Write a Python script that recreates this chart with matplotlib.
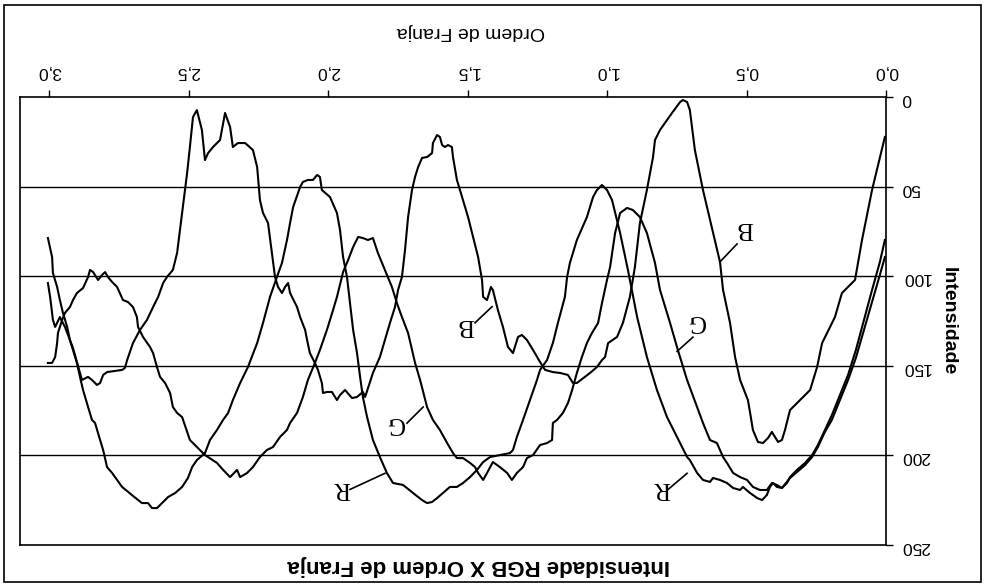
import matplotlib
matplotlib.use("Agg")
import matplotlib.pyplot as plt
from matplotlib.patches import Rectangle

plt.rcParams['font.family'] = ['Liberation Sans', 'DejaVu Sans']

# ordem de franja (x) e intensidade
b_x = [0.004, 0.050, 0.086, 0.111, 0.158, 0.183, 0.229, 0.247, 0.272, 0.297, 0.319, 0.344, 0.362, 0.373,
       0.387, 0.398, 0.409, 0.423, 0.441, 0.459, 0.477, 0.487, 0.495, 0.523, 0.541, 0.559, 0.584, 0.595,
       0.627, 0.656, 0.685, 0.703, 0.713, 0.728, 0.738, 0.767, 0.810, 0.828, 0.835, 0.857, 0.882, 0.900,
       0.918, 0.943, 0.964, 0.996, 1.007, 1.018, 1.036, 1.061, 1.108, 1.122, 1.140, 1.168, 1.194, 1.222,
       1.240, 1.265, 1.287, 1.305, 1.319, 1.337, 1.355, 1.373, 1.391, 1.409, 1.416, 1.430, 1.444, 1.448,
       1.462, 1.480, 1.498, 1.516, 1.527, 1.538, 1.552, 1.556, 1.570, 1.581, 1.591, 1.599, 1.609, 1.624,
       1.627, 1.645, 1.663, 1.677, 1.688, 1.699, 1.713, 1.724, 1.735, 1.749, 1.760, 1.778, 1.796, 1.814,
       1.839, 1.867, 1.875, 1.896, 1.914, 1.939, 1.957, 1.968, 1.986, 2.004, 2.018, 2.022, 2.036, 2.047,
       2.065, 2.075, 2.082, 2.100, 2.111, 2.136, 2.143, 2.154, 2.165, 2.179, 2.190, 2.201, 2.215, 2.233,
       2.244, 2.254, 2.269, 2.297, 2.323, 2.341, 2.351, 2.369, 2.387, 2.412, 2.430, 2.441, 2.452, 2.470,
       2.484, 2.495, 2.505, 2.523, 2.541, 2.556, 2.577, 2.591, 2.609, 2.627, 2.649, 2.674, 2.699, 2.720,
       2.728, 2.738, 2.792, 2.806, 2.817, 2.828, 2.846, 2.860, 2.882, 2.914, 2.925, 2.943, 2.961, 2.978,
       2.986, 2.996, 3.004]
b_val = [22.3, 51.9, 79.8, 102.1, 109.4, 122.8, 137.3, 150.7, 163.5, 167.4, 170.8, 174.7, 185.8, 191.4,
         192.5, 189.7, 186.9, 190.3, 193.1, 192.5, 185.8, 176.3, 169.1, 157.9, 145.1, 126.1, 107.7, 92.1,
         71.0, 51.9, 29.6, 7.3, 2.8, 1.7, 2.8, 8.9, 18.4, 24.0, 33.5, 51.9, 70.3, 94.9,
         111.6, 126.1, 133.9, 137.3, 145.1, 146.8, 150.7, 154.0, 159.6, 159.6, 155.1, 154.0, 153.5, 152.3,
         147.9, 141.2, 135.6, 132.8, 133.9, 142.9, 139.5, 128.3, 118.9, 107.7, 106.0, 113.3, 111.6, 102.1,
         89.3, 78.1, 67.0, 57.5, 51.9, 46.3, 33.5, 27.9, 26.8, 27.9, 26.8, 22.3, 21.2, 25.7,
         31.3, 33.5, 34.0, 39.1, 44.6, 51.9, 67.0, 85.4, 100.4, 107.7, 117.2, 126.1, 135.6, 145.1,
         154.0, 167.4, 164.6, 167.4, 168.0, 163.5, 166.3, 169.1, 164.6, 164.6, 165.2, 159.6, 152.3, 148.4,
         142.9, 135.6, 130.0, 122.8, 117.2, 109.4, 103.8, 106.0, 109.4, 106.0, 100.4, 87.1, 70.3, 64.7,
         57.5, 39.1, 29.6, 25.7, 25.7, 27.9, 16.7, 8.9, 24.0, 27.9, 31.3, 35.2, 18.4, 7.3,
         11.2, 27.9, 42.4, 64.7, 87.1, 96.5, 100.4, 103.8, 111.6, 117.2, 124.4, 130.0, 137.3, 146.8,
         151.2, 152.3, 153.5, 155.1, 159.6, 160.7, 157.9, 156.2, 157.9, 140.1, 135.6, 128.3, 122.8, 128.3,
         124.4, 111.6, 103.8]

g_x = [0.004, 0.022, 0.050, 0.079, 0.108, 0.136, 0.165, 0.194, 0.219, 0.244, 0.265, 0.290, 0.319, 0.344,
       0.355, 0.373, 0.391, 0.409, 0.427, 0.452, 0.477, 0.498, 0.523, 0.548, 0.570, 0.584, 0.606, 0.631,
       0.656, 0.677, 0.713, 0.746, 0.774, 0.810, 0.828, 0.857, 0.882, 0.907, 0.928, 0.953, 0.971, 0.989,
       1.000, 1.018, 1.032, 1.054, 1.072, 1.090, 1.108, 1.125, 1.140, 1.158, 1.179, 1.194, 1.197, 1.215,
       1.240, 1.265, 1.287, 1.301, 1.323, 1.341, 1.358, 1.384, 1.409, 1.430, 1.444, 1.462, 1.473, 1.491,
       1.516, 1.538, 1.552, 1.573, 1.599, 1.624, 1.645, 1.670, 1.688, 1.713, 1.735, 1.753, 1.771, 1.796,
       1.821, 1.839, 1.857, 1.875, 1.892, 1.910, 1.928, 1.946, 1.968, 1.982, 2.004, 2.029, 2.047, 2.072,
       2.090, 2.111, 2.136, 2.147, 2.172, 2.197, 2.219, 2.244, 2.269, 2.290, 2.315, 2.326, 2.351, 2.376,
       2.398, 2.441, 2.470, 2.495, 2.523, 2.541, 2.556, 2.566, 2.584, 2.602, 2.613, 2.627, 2.638, 2.663,
       2.681, 2.685, 2.699, 2.717, 2.735, 2.746, 2.756, 2.774, 2.789, 2.799, 2.810, 2.824, 2.842, 2.853,
       2.860, 2.878, 2.900, 2.914, 2.925, 2.943, 2.953, 2.968, 2.971, 2.978, 2.989, 3.004]
g_val = [79.8, 92.1, 107.7, 124.4, 141.2, 155.1, 166.3, 177.5, 185.8, 194.2, 199.8, 204.2, 208.1, 212.1,
         215.4, 218.2, 216.5, 215.4, 219.3, 219.3, 217.6, 213.7, 212.1, 209.8, 204.2, 200.9, 193.1, 191.4,
         181.9, 173.0, 157.9, 141.2, 126.1, 107.7, 92.6, 75.9, 67.0, 63.1, 61.9, 64.7, 75.9, 94.9,
         102.1, 115.0, 126.1, 131.7, 137.3, 145.1, 154.0, 163.5, 170.8, 176.3, 180.2, 181.9, 191.4, 193.1,
         194.2, 199.8, 201.5, 206.5, 209.8, 213.7, 209.8, 206.5, 203.7, 209.8, 213.7, 209.8, 206.5, 204.2,
         201.5, 201.5, 198.7, 193.1, 185.8, 180.2, 173.0, 157.9, 148.4, 131.7, 122.8, 115.0, 106.0, 96.5,
         87.1, 78.7, 79.8, 78.7, 78.1, 83.7, 91.0, 97.7, 111.6, 118.9, 130.0, 141.2, 148.4, 157.9,
         167.4, 176.3, 181.9, 185.8, 189.7, 195.3, 197.0, 200.9, 206.5, 209.8, 212.1, 208.1, 212.1, 208.1,
         204.2, 199.8, 195.3, 191.4, 178.6, 176.3, 173.0, 165.2, 159.6, 156.2, 150.7, 142.9, 139.5, 133.9,
         128.3, 122.8, 117.2, 114.4, 113.3, 109.4, 106.0, 103.2, 100.4, 97.7, 99.3, 102.1, 97.7, 96.5,
         100.4, 106.6, 109.4, 113.3, 117.2, 120.5, 124.4, 131.7, 137.3, 145.1, 148.4, 148.4]

r_x = [0.004, 0.022, 0.050, 0.079, 0.108, 0.136, 0.165, 0.194, 0.219, 0.244, 0.265, 0.290, 0.319, 0.344,
       0.373, 0.391, 0.405, 0.416, 0.427, 0.444, 0.462, 0.487, 0.513, 0.523, 0.548, 0.570, 0.595, 0.620,
       0.631, 0.656, 0.677, 0.703, 0.713, 0.749, 0.785, 0.821, 0.857, 0.892, 0.925, 0.953, 0.982, 1.000,
       1.018, 1.036, 1.050, 1.072, 1.108, 1.133, 1.143, 1.151, 1.176, 1.194, 1.215, 1.240, 1.251, 1.276,
       1.301, 1.323, 1.337, 1.348, 1.384, 1.419, 1.444, 1.466, 1.491, 1.516, 1.538, 1.563, 1.588, 1.609,
       1.627, 1.645, 1.663, 1.695, 1.731, 1.767, 1.789, 1.814, 1.839, 1.860, 1.875, 1.885, 1.896, 1.910,
       1.921, 1.932, 1.946, 1.957, 1.968, 1.993, 2.022, 2.029, 2.039, 2.054, 2.072, 2.090, 2.100, 2.125,
       2.136, 2.147, 2.165, 2.183, 2.208, 2.233, 2.254, 2.287, 2.315, 2.341, 2.358, 2.376, 2.398, 2.423,
       2.441, 2.470, 2.487, 2.502, 2.523, 2.548, 2.573, 2.595, 2.613, 2.631, 2.645, 2.667, 2.703, 2.738,
       2.774, 2.792, 2.806, 2.817, 2.835, 2.846, 2.860, 2.878, 2.889, 2.900, 2.914, 2.925, 2.935, 2.950,
       2.961, 2.971, 2.986, 2.989, 3.004]
r_val = [89.3, 99.3, 114.4, 130.0, 145.6, 157.9, 169.1, 180.2, 186.9, 195.3, 200.9, 205.4, 209.3, 212.6,
         218.2, 217.6, 215.4, 217.6, 222.1, 224.9, 223.8, 221.0, 217.6, 219.3, 218.2, 215.4, 213.7, 212.6,
         214.8, 213.7, 209.8, 202.6, 200.9, 189.7, 178.6, 163.5, 145.1, 122.8, 96.5, 75.9, 57.5, 51.9,
         49.1, 51.9, 55.8, 67.0, 79.8, 92.6, 100.4, 111.6, 126.1, 137.3, 146.8, 152.3, 157.9, 169.1,
         180.2, 189.7, 197.0, 198.7, 199.8, 200.9, 203.7, 208.1, 212.1, 215.4, 217.6, 217.6, 221.0, 223.8,
         226.0, 226.6, 224.9, 221.0, 216.5, 215.4, 209.8, 200.9, 191.4, 178.6, 167.4, 156.2, 142.9, 130.0,
         115.0, 100.4, 89.3, 74.2, 64.7, 55.8, 51.9, 44.6, 43.5, 46.3, 46.3, 47.4, 50.2, 61.4,
         70.3, 79.8, 92.6, 100.4, 111.6, 126.1, 137.3, 150.7, 159.6, 169.1, 176.3, 180.2, 185.8, 191.4,
         198.7, 202.6, 206.5, 212.6, 217.6, 221.0, 223.2, 226.6, 229.4, 229.4, 226.6, 226.6, 222.1, 217.6,
         209.8, 206.5, 197.0, 191.4, 181.9, 180.2, 173.0, 163.5, 156.2, 148.4, 141.2, 135.6, 128.3, 120.5,
         113.3, 106.0, 98.2, 89.3, 78.7]

x_ticks = [0.0, 0.5, 1.0, 1.5, 2.0, 2.5, 3.0]
x_tick_labels = ['0,0', '0,5', '1,0', '1,5', '2,0', '2,5', '3,0']
y_ticks = [0, 50, 100, 150, 200, 250]

# rotulos das curvas: (letra, posicao do texto, inicio e fim do traco)
labels = [
    ('B', (0.505, 73), (0.534, 82), (0.595, 92)),
    ('G', (0.681, 125), (0.692, 134), (0.749, 142)),
    ('R', (0.803, 218), (0.781, 219), (0.713, 210)),
    ('B', (1.505, 127), (1.473, 126), (1.412, 117)),
    ('G', (1.760, 182), (1.717, 182), (1.659, 173)),
    ('R', (1.950, 218), (1.921, 219), (1.796, 210)),
]

fig = plt.figure(figsize=(9.84, 5.85), dpi=100)
ax = fig.add_axes([20 / 984, 40 / 585, 866 / 984, 448 / 585])

for xs, ys in [(b_x, b_val), (g_x, g_val), (r_x, r_val)]:
    ax.plot(xs, ys, color='black', lw=1.5)

for txt, pos, p0, p1 in labels:
    ax.text(pos[0], pos[1], txt, family='Liberation Serif', fontsize=18,
            rotation=180, ha='center', va='center')
    ax.plot([p0[0], p1[0]], [p0[1], p1[1]], color='black', lw=1.2)

# grafico original esta girado 180 graus
ax.set_xlim(3.104, 0)
ax.set_ylim(250, 0)
ax.set_xticks(x_ticks)
ax.set_xticklabels(x_tick_labels)
ax.set_yticks(y_ticks)
ax.xaxis.tick_top()
ax.yaxis.tick_right()
ax.tick_params(axis='both', direction='out', length=5, width=1, labelsize=12.5, colors='black')
ax.tick_params(axis='x', labelrotation=180, pad=8)
ax.tick_params(axis='y', labelrotation=180, pad=6)
for v in [50, 100, 150, 200]:
    ax.axhline(v, color='black', lw=1)
for s in ax.spines.values():
    s.set_linewidth(1.2)

ax.set_xlabel('Ordem de Franja', fontsize=14, rotation=180)
ax.xaxis.set_label_position('top')
ax.xaxis.set_label_coords(0.521, 1.136)
ax.set_ylabel('Intensidade', fontsize=14, fontweight='bold', rotation=270)
ax.yaxis.set_label_position('right')
ax.yaxis.set_label_coords(1.082, 0.50)

ax.set_title('Intensidade RGB X Ordem de Franja', fontsize=16, fontweight='bold',
             rotation=180, va='center', y=-0.045, pad=0)
ax.title.set_x(0.530)

fig.patches.append(Rectangle((4 / 984, 3 / 585), 977 / 984, 577 / 585, transform=fig.transFigure,
                             fill=False, ec='black', lw=1.2))

fig.savefig('out.png', dpi=100)
